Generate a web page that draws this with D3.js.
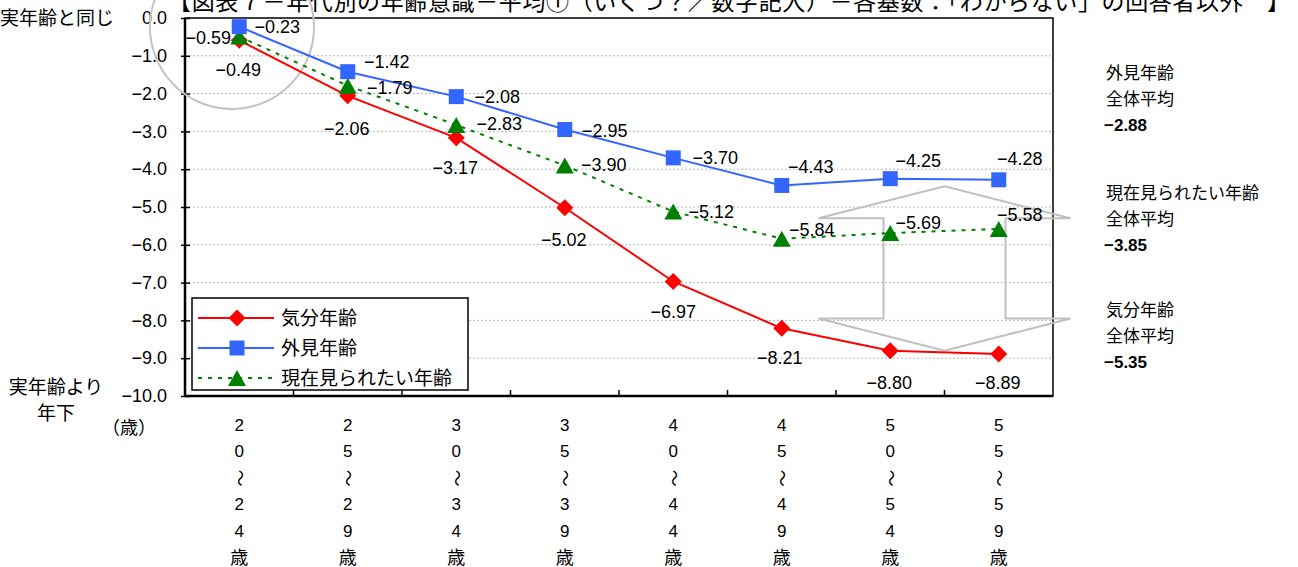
<!DOCTYPE html>
<html>
<head>
<meta charset="utf-8">
<script src="https://cdn.jsdelivr.net/npm/d3@7"></script>
<style>
  body { margin: 0; background: #fff; }
  svg { display: block; }
  text { font-family: "Liberation Sans", "Noto Sans CJK JP", sans-serif; fill: #000; }
</style>
</head>
<body>
<svg id="chart" width="1298" height="567"></svg>
<script>
// ---- data ----
const categories = ["20～24歳", "25～29歳", "30～34歳", "35～39歳", "40～44歳", "45～49歳", "50～54歳", "55～59歳"];
const seriesNames = ["気分年齢", "外見年齢", "現在見られたい年齢"];
const moodAge    = [-0.59, -2.06, -3.17, -5.02, -6.97, -8.21, -8.80, -8.89];
const lookAge    = [-0.23, -1.42, -2.08, -2.95, -3.70, -4.43, -4.25, -4.28];
const desiredAge = [-0.49, -1.79, -2.83, -3.90, -5.12, -5.84, -5.69, -5.58];
const yTicks = [0, -1, -2, -3, -4, -5, -6, -7, -8, -9, -10];
const averageNames  = ["外見年齢", "現在見られたい年齢", "気分年齢"];
const averageValues = [-2.88, -3.85, -5.35];
const titleText = "【図表７－年代別の年齢意識－平均①（いくつ？／数字記入）－各基数：「わからない」の回答者以外　】";

// ---- layout ----
const svg = d3.select("#chart");
const plotLeft = 185, plotRight = 1053, plotTop = 18, plotBottom = 396;
const x = d3.scaleBand().domain(categories).range([plotLeft, plotRight]);
const y = d3.scaleLinear().domain([-10, 0]).range([plotBottom, plotTop]);
const cx = d => x(d) + x.bandwidth() / 2;
const fmt = v => (v < 0 ? "\u2212" : "") + d3.format(".2f")(Math.abs(v));
const fmt1 = v => (v < 0 ? "\u2212" : "") + d3.format(".1f")(Math.abs(v));

// title (partly above the page edge)
svg.append("text")
  .attr("x", 168).attr("y", 10)
  .attr("font-size", 23)
  .attr("textLength", 1122).attr("lengthAdjust", "spacing")
  .text(titleText);

// gridlines
svg.append("g").selectAll("line")
  .data(yTicks.filter(t => t !== 0 && t !== -10))
  .join("line")
  .attr("x1", plotLeft).attr("x2", plotRight)
  .attr("y1", d => y(d)).attr("y2", d => y(d))
  .attr("stroke", "#b4b4b4").attr("stroke-width", 1)
  .attr("stroke-dasharray", "2,2");

// plot border
svg.append("rect")
  .attr("x", plotLeft).attr("y", plotTop)
  .attr("width", plotRight - plotLeft).attr("height", plotBottom - plotTop)
  .attr("fill", "none").attr("stroke", "#000").attr("stroke-width", 1.5);
svg.append("line").attr("x1", plotLeft).attr("x2", plotLeft).attr("y1", plotTop).attr("y2", plotBottom + 1)
  .attr("stroke", "#000").attr("stroke-width", 2.5);
svg.append("line").attr("x1", plotLeft).attr("x2", plotRight).attr("y1", plotBottom).attr("y2", plotBottom)
  .attr("stroke", "#000").attr("stroke-width", 2.5);

// y axis
const yAxis = svg.append("g").attr("transform", `translate(${plotLeft},0)`)
  .call(d3.axisLeft(y).tickValues(yTicks).tickSize(4).tickPadding(14).tickFormat(fmt1));
yAxis.select(".domain").remove();
yAxis.selectAll(".tick line").attr("x1", -4).attr("x2", 5).attr("stroke", "#000").attr("stroke-width", 1.5);
yAxis.selectAll(".tick text").attr("font-size", 18).attr("font-family", "Liberation Sans, sans-serif");

// x axis ticks at band boundaries (inside)
svg.append("g").selectAll("line")
  .data(categories.slice(1))
  .join("line")
  .attr("x1", d => x(d)).attr("x2", d => x(d))
  .attr("y1", plotBottom).attr("y2", plotBottom - 6)
  .attr("stroke", "#000").attr("stroke-width", 1.5);

// x labels, stacked vertically
const xl = svg.append("g").selectAll("g").data(categories).join("g")
  .attr("transform", d => `translate(${cx(d)},0)`);
xl.each(function(d) {
  const chars = Array.from(d);
  const g = d3.select(this);
  chars.forEach((c, i) => {
    const yy = 425 + i * 26.6;
    const t = g.append("text")
      .attr("text-anchor", "middle")
      .attr("dominant-baseline", "central")
      .attr("font-size", c === "歳" ? 18 : 17)
      .text(c);
    if (c === "～") t.attr("transform", `translate(0,${yy}) rotate(90)`);
    else t.attr("y", yy);
  });
});

// side labels
svg.append("text").attr("x", 0).attr("y", 18).attr("dominant-baseline", "central").attr("font-size", 19).text("実年齢と同じ");
svg.append("text").attr("x", 56).attr("y", 387).attr("text-anchor", "middle").attr("dominant-baseline", "central").attr("font-size", 19).text("実年齢より");
svg.append("text").attr("x", 56).attr("y", 413).attr("text-anchor", "middle").attr("dominant-baseline", "central").attr("font-size", 19).text("年下");
svg.append("text").attr("x", 129).attr("y", 428).attr("text-anchor", "middle").attr("dominant-baseline", "central").attr("font-size", 18).text("（歳）");

// highlight circle and gray double arrow
svg.append("circle").attr("cx", 232).attr("cy", 27).attr("r", 82)
  .attr("fill", "none").attr("stroke", "#c4c4c4").attr("stroke-width", 2);

const arrowX = (cx(categories[6]) + cx(categories[7])) / 2;
const headTop = y(-4.45), headBase1 = y(-5.3), headBase2 = y(-7.95), headBottom = y(-8.8);
const shaftHalf = 61, headHalf = 126;
const arrowPts = [
  [arrowX, headTop], [arrowX + headHalf, headBase1], [arrowX + shaftHalf, headBase1],
  [arrowX + shaftHalf, headBase2], [arrowX + headHalf, headBase2], [arrowX, headBottom],
  [arrowX - headHalf, headBase2], [arrowX - shaftHalf, headBase2], [arrowX - shaftHalf, headBase1],
  [arrowX - headHalf, headBase1]
];
svg.append("path").attr("d", d3.line()(arrowPts) + "Z")
  .attr("fill", "none").attr("stroke", "#c0c0c0").attr("stroke-width", 2);

// series
const diamond = "M0,-8.5L8.5,0L0,8.5L-8.5,0Z";
const square = "M-7.5,-7.5H7.5V7.5H-7.5Z";
const triangle = "M0,-8L9,8L-9,8Z";

const series = [
  { name: seriesNames[0], values: moodAge, color: "#ff0000", dash: null, shape: diamond,
    off: [[-31, -2], [-1, 33], [-1, 30], [-1, 32], [0, 31], [-2, 30], [-1, 32], [-1, 29]] },
  { name: seriesNames[2], values: desiredAge, color: "#008000", dash: "4,6", shape: triangle,
    off: [[-1, 33], [42, 2], [43, -1], [39, 0], [38, 0], [30, -9], [28, -10], [21, -14]] },
  { name: seriesNames[1], values: lookAge, color: "#3366ff", dash: null, shape: square,
    off: [[38, 0], [39, -10], [41, 0], [40, 1], [42, 0], [29, -18], [28, -18], [21, -21]] }
];

const line = d3.line().x((d, i) => cx(categories[i])).y(d => y(d));
series.forEach(s => {
  svg.append("path").attr("d", line(s.values))
    .attr("fill", "none").attr("stroke", s.color).attr("stroke-width", 2)
    .attr("stroke-dasharray", s.dash);
});
series.forEach(s => {
  svg.append("g").selectAll("path").data(s.values).join("path")
    .attr("d", s.shape)
    .attr("transform", (d, i) => `translate(${cx(categories[i])},${y(d)})`)
    .attr("fill", s.color);
});
series.forEach(s => {
  svg.append("g").selectAll("text").data(s.values).join("text")
    .attr("x", (d, i) => cx(categories[i]) + s.off[i][0])
    .attr("y", (d, i) => y(d) + s.off[i][1])
    .attr("text-anchor", "middle").attr("dominant-baseline", "central")
    .attr("font-size", 18)
    .text(d => fmt(d));
});

// legend
const lg = svg.append("g");
lg.append("rect").attr("x", 192).attr("y", 298).attr("width", 276).attr("height", 92)
  .attr("fill", "#fff").attr("stroke", "#000").attr("stroke-width", 1.5);
[series[0], series[2], series[1]].forEach((s, i) => {
  const ly = 318 + i * 30;
  lg.append("line").attr("x1", 198).attr("x2", 274).attr("y1", ly).attr("y2", ly)
    .attr("stroke", s.color).attr("stroke-width", 2).attr("stroke-dasharray", s.dash);
  lg.append("path").attr("d", s.shape).attr("transform", `translate(237,${ly})`).attr("fill", s.color);
  lg.append("text").attr("x", 281).attr("y", ly).attr("dominant-baseline", "central")
    .attr("font-size", 19).text(s.name);
});

// overall averages on the right
const avgY = [73, 193, 310];
averageNames.forEach((n, i) => {
  const g = svg.append("g");
  g.append("text").attr("x", 1106).attr("y", avgY[i]).attr("dominant-baseline", "central").attr("font-size", 17).text(n);
  g.append("text").attr("x", 1106).attr("y", avgY[i] + 26).attr("dominant-baseline", "central").attr("font-size", 17).text("全体平均");
  g.append("text").attr("x", 1104).attr("y", avgY[i] + 52).attr("dominant-baseline", "central").attr("font-size", 17)
    .attr("font-weight", "bold").text(fmt(averageValues[i]));
});
</script>
</body>
</html>
